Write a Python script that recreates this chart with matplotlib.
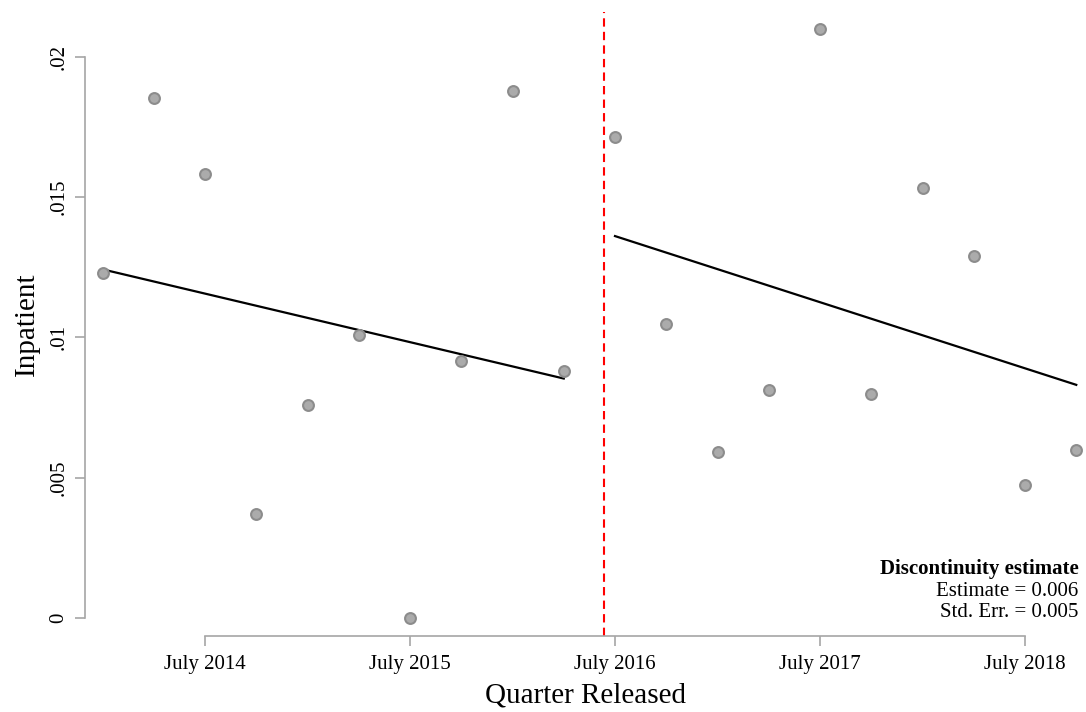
import numpy as np
import pandas as pd
import matplotlib
matplotlib.use("Agg")
import matplotlib.pyplot as plt

# quarters released, Jan 2014 .. Oct 2018
quarters = pd.period_range("2014Q1", "2018Q4", freq="Q")
inpatient = [0.01229, 0.01852, 0.01583, 0.00371, 0.00761, 0.01009, 0.0, 0.00917, 0.01879, 0.00882,
             0.01715, 0.01048, 0.00593, 0.00813, 0.02100, 0.00798, 0.01531, 0.01291, 0.00475, 0.00599]
tick_quarters = ["2014Q3", "2015Q3", "2016Q3", "2017Q3", "2018Q3"]
tick_labels = ["July 2014", "July 2015", "July 2016", "July 2017", "July 2018"]
cutoff = 9.79          # red dashed line, in quarters since 2014Q1
est_text = ["Discontinuity estimate", "Estimate = 0.006", "Std. Err. = 0.005"]

plt.rcParams['font.family'] = ['Liberation Serif', 'DejaVu Serif']

t = np.array([(q - quarters[0]).n for q in quarters], dtype=float)
y = np.array(inpatient)
left = t < 10
right = ~left

fig = plt.figure(figsize=(10.86, 7.12), dpi=100)
ax = fig.add_axes([85 / 1086, (712 - 636) / 712, 1001 / 1086, 624 / 712])

ax.axvline(cutoff, color="red", lw=1.5, ls=(0, (4, 2.5)), zorder=1)

# linear fit on each side of the cutoff
for m in (left, right):
    b = np.polyfit(t[m], y[m], 1)
    xs = np.array([t[m].min(), t[m].max()])
    ax.plot(xs, np.polyval(b, xs), color="black", lw=1.6, zorder=2)

ax.plot(t, y, ls="none", marker="o", ms=7.8, mfc="#ababab", mec="#8c8c8c", mew=1.5, zorder=3)

ax.set_xlim((85 - 102.5) / 51.25, (1086 - 102.5) / 51.25)
ax.set_ylim(-17.7 / 28080, 606.3 / 28080)

tick_pos = [(pd.Period(q, freq="Q") - quarters[0]).n for q in tick_quarters]
ax.set_xticks(tick_pos)
ax.set_xticklabels(tick_labels, fontsize=15)
ax.set_yticks([0, 0.005, 0.01, 0.015, 0.02])
ax.set_yticklabels(["0", ".005", ".01", ".015", ".02"], fontsize=15, rotation=90, va="center")

for s in ("top", "right"):
    ax.spines[s].set_visible(False)
for s in ("left", "bottom"):
    ax.spines[s].set_color("#a6a6a6")
    ax.spines[s].set_linewidth(1.2)
ax.spines["left"].set_bounds(0, 0.02)
ax.spines["bottom"].set_bounds(tick_pos[0], tick_pos[-1])
ax.tick_params(colors="#a6a6a6", labelcolor="black", length=7, width=1.2, pad=7)
ax.tick_params(axis="y", pad=5)

ax.set_xlabel("Quarter Released", fontsize=21, labelpad=6)
ax.set_ylabel("Inpatient", fontsize=21, labelpad=7)

ax.text(0.9925, 0.107, est_text[0], transform=ax.transAxes, ha="right", va="center",
        fontsize=15, fontweight="bold")
ax.text(0.9925, 0.071, est_text[1], transform=ax.transAxes, ha="right", va="center", fontsize=15)
ax.text(0.9925, 0.037, est_text[2], transform=ax.transAxes, ha="right", va="center", fontsize=15)

fig.savefig("out.png", dpi=100)
